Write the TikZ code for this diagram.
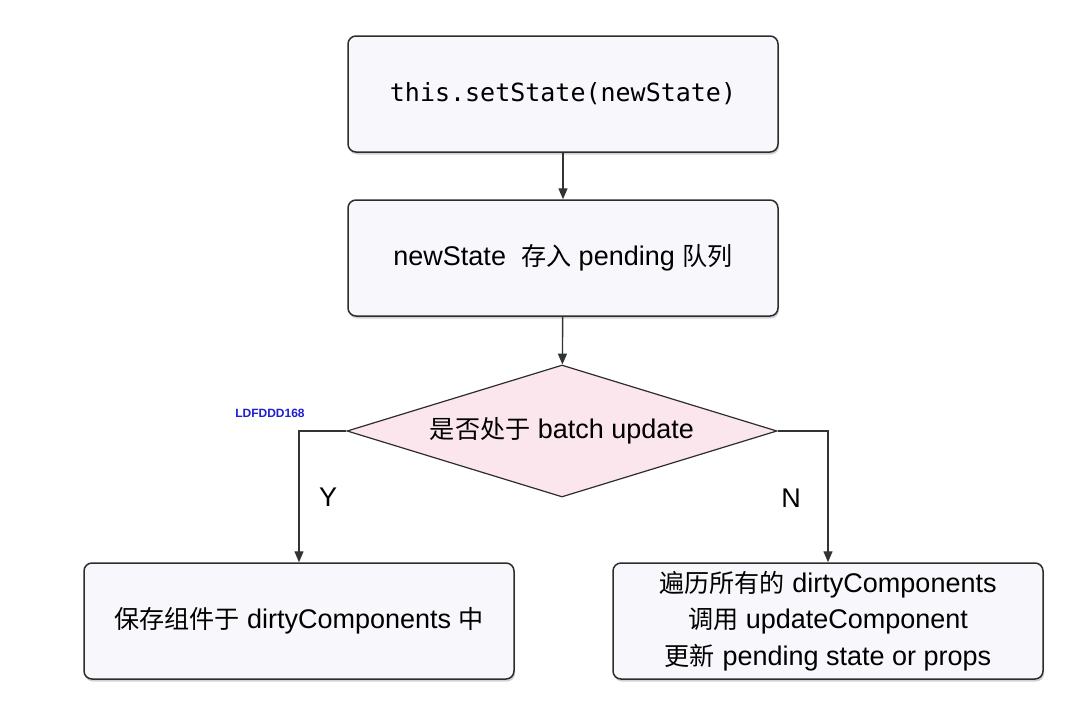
\documentclass[tikz,border=0pt]{standalone}
\usepackage{fontspec}
\setmainfont{Liberation Sans}
\setmonofont{DejaVu Sans Mono}
\newfontfamily\cjk[Scale=0.93]{Noto Sans CJK SC}
\usetikzlibrary{shapes.geometric,arrows.meta,shadows}
\definecolor{boxfill}{RGB}{248,247,252}
\definecolor{dfill}{RGB}{252,230,238}
\definecolor{edge}{RGB}{45,45,45}
\definecolor{lblue}{RGB}{30,30,210}
\tikzset{
  procbox/.style={draw=edge, line width=1.5pt, fill=boxfill, rounded corners=8pt,
    minimum width=430pt, minimum height=116pt, inner sep=0pt, align=center,
    drop shadow={opacity=0.35, shadow xshift=1pt, shadow yshift=-2.5pt}},
  decis/.style={diamond, shape aspect=3.26, draw=edge, line width=1.2pt, fill=dfill,
    minimum width=430pt, minimum height=132pt, inner sep=0pt},
  conn/.style={draw=black!80, line width=1.4pt, -{Triangle[length=11pt,width=9pt]}},
  txt/.style={font=\fontsize{27}{36}\selectfont},
}
\begin{document}
\begin{tikzpicture}[x=1pt,y=-1pt]
\useasboundingbox[fill=white] (0,0) rectangle (1086,704);
\node[procbox, font=\ttfamily\fontsize{25}{30}\selectfont] (a) at (563,94) {this.setState(newState)};
\node[procbox, txt] (b) at (563,258) {\raisebox{-3pt}{newState\ \ {\cjk 存入} pending {\cjk 队列}}};
\node[decis, txt] (c) at (562,431) {{\cjk 是否处于} batch update};
\node[procbox, txt] (d) at (299,621) {{\cjk 保存组件于} dirtyComponents {\cjk 中}};
\node[procbox, txt, font=\fontsize{27}{36.5}\selectfont] (e) at (828,621) {{\cjk 遍历所有的} dirtyComponents\\{\cjk 调用} updateComponent\\{\cjk 更新} pending state or props};
\node[font=\bfseries\fontsize{12}{14}\selectfont, text=lblue] (lbl) at (270,413) {LDFDDD168};
\node[txt] (y) at (328,497) {Y};
\node[txt] (n) at (791,498) {N};
\draw[conn] (a) -- (b);
\draw[conn] (b) -- (c);
\draw[conn] (c.west) -| (d.north);
\draw[conn] (c.east) -| (e.north);
\end{tikzpicture}
\end{document}
